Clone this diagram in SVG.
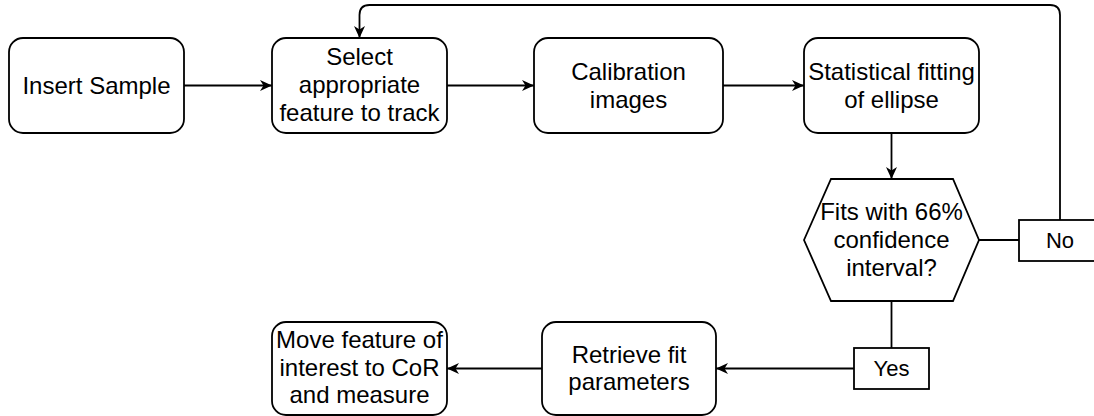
<svg xmlns="http://www.w3.org/2000/svg" width="1094" height="416" viewBox="0 0 1094 416">
  <style>
    .box { fill: #ffffff; stroke: #000000; stroke-width: 1.8; }
    .edge { fill: none; stroke: #000000; stroke-width: 1.8; }
    .t { font-family: "Liberation Sans", Arial, sans-serif; font-size: 24px; fill: #000000; text-anchor: middle; }
    .lbl { font-family: "Liberation Sans", Arial, sans-serif; font-size: 22px; fill: #000000; text-anchor: middle; }
  </style>
  <defs>
    <marker id="arrow" markerUnits="userSpaceOnUse" markerWidth="14" markerHeight="12" refX="12" refY="5.5" orient="auto">
      <path d="M0,0 L12,5.5 L0,11 L3.5,5.5 Z" fill="#000000"/>
    </marker>
  </defs>
  <rect width="1094" height="416" fill="#ffffff"/>

  <!-- connectors -->
  <g id="connectors">
    <line class="edge" x1="184" y1="85.5" x2="272" y2="85.5" marker-end="url(#arrow)"/>
    <line class="edge" x1="447" y1="85.5" x2="534" y2="85.5" marker-end="url(#arrow)"/>
    <line class="edge" x1="723" y1="85.5" x2="804" y2="85.5" marker-end="url(#arrow)"/>
    <line class="edge" x1="891.5" y1="133" x2="891.5" y2="179" marker-end="url(#arrow)"/>
    <line class="edge" x1="891.5" y1="301" x2="891.5" y2="348"/>
    <line class="edge" x1="979" y1="240" x2="1019" y2="240"/>
    <line class="edge" x1="854" y1="368.5" x2="716" y2="368.5" marker-end="url(#arrow)"/>
    <line class="edge" x1="542" y1="368.5" x2="447" y2="368.5" marker-end="url(#arrow)"/>
    <!-- retry loop back to feature selection -->
    <path class="edge" d="M1060,220 L1060,15 Q1060,5 1050,5 L369.5,5 Q359.5,5 359.5,15 L359.5,38" marker-end="url(#arrow)"/>
  </g>

  <g id="insert-sample">
    <rect class="box" x="9" y="38" width="175" height="95" rx="14"/>
    <text class="t" x="96.5" y="94">Insert Sample</text>
  </g>

  <g id="select-feature">
    <rect class="box" x="272" y="38" width="175" height="95" rx="14"/>
    <text class="t" x="359.5" y="65">Select</text>
    <text class="t" x="359.5" y="93">appropriate</text>
    <text class="t" x="359.5" y="121">feature to track</text>
  </g>

  <g id="calibration-images">
    <rect class="box" x="534" y="38" width="189" height="95" rx="14"/>
    <text class="t" x="628.5" y="80">Calibration</text>
    <text class="t" x="628.5" y="107.5">images</text>
  </g>

  <g id="ellipse-fit">
    <rect class="box" x="804" y="38" width="175" height="95" rx="14"/>
    <text class="t" x="891.5" y="80">Statistical fitting</text>
    <text class="t" x="891.5" y="107.5">of ellipse</text>
  </g>

  <g id="confidence-check">
    <polygon class="box" points="804,240 831,179 953,179 979,240 953,301 831,301"/>
    <text class="t" x="891.5" y="220">Fits with 66%</text>
    <text class="t" x="891.5" y="248">confidence</text>
    <text class="t" x="891.5" y="276">interval?</text>
  </g>

  <g id="label-no">
    <rect class="box" x="1019" y="220" width="82" height="41"/>
    <text class="lbl" x="1060" y="248">No</text>
  </g>

  <g id="label-yes">
    <rect class="box" x="854" y="348" width="75" height="41"/>
    <text class="lbl" x="891.5" y="376">Yes</text>
  </g>

  <g id="retrieve-params">
    <rect class="box" x="542" y="322" width="174" height="93" rx="14"/>
    <text class="t" x="629" y="363">Retrieve fit</text>
    <text class="t" x="629" y="390">parameters</text>
  </g>

  <g id="move-feature">
    <rect class="box" x="272" y="322" width="175" height="93" rx="14"/>
    <text class="t" x="359.5" y="348">Move feature of</text>
    <text class="t" x="359.5" y="375.5">interest to CoR</text>
    <text class="t" x="359.5" y="403">and measure</text>
  </g>
</svg>
